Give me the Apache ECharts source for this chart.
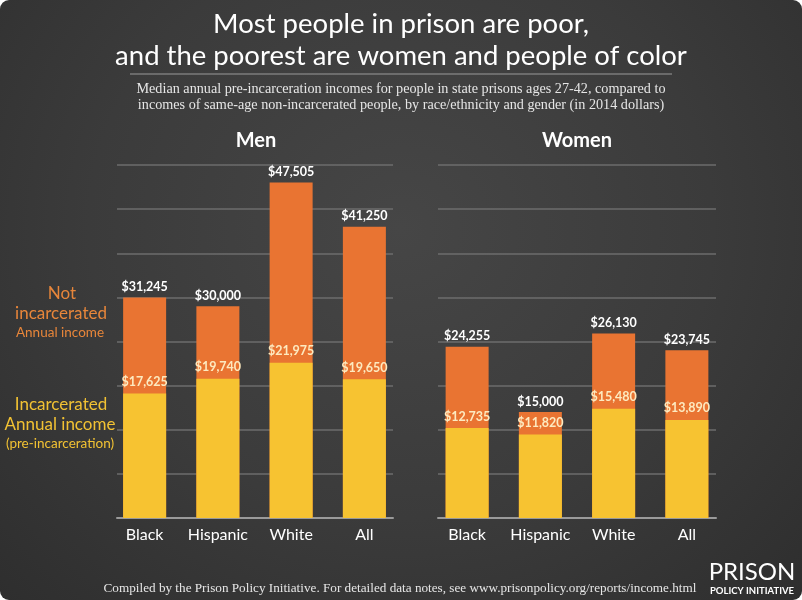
<!DOCTYPE html>
<html>
<head>
<meta charset="utf-8">
<script src="https://cdn.jsdelivr.net/npm/echarts@6/dist/echarts.min.js"></script>
<style>
  html, body { margin: 0; padding: 0; background: #fff; }
  #chart {
    width: 802px; height: 600px; border-radius: 9px; overflow: hidden;
    background: radial-gradient(ellipse at 50% 38%, #464646 0%, #3b3b3b 55%, #2e2e2e 100%);
  }
</style>
</head>
<body>
<div id="chart"></div>
<script>
// data
var categories = ['Black', 'Hispanic', 'White', 'All'];
var menNotIncarcerated = [31245, 30000, 47505, 41250];
var menIncarcerated = [17625, 19740, 21975, 19650];
var womenNotIncarcerated = [24255, 15000, 26130, 23745];
var womenIncarcerated = [12735, 11820, 15480, 13890];
var yMin = 0, yMax = 50000, yStep = 6250;

var ORANGE = '#e97432';
var YELLOW = '#f7c331';

function money(p) {
  return '$' + p.value.toLocaleString('en-US');
}

var myChart = echarts.init(document.getElementById('chart'));

var plotTop = 165, plotHeight = 353;
var grids = [
  { left: 108, top: plotTop, width: 293, height: plotHeight },   // men bars
  { left: 430.5, top: plotTop, width: 293, height: plotHeight }, // women bars
  { left: 117, top: plotTop, width: 276, height: plotHeight },   // men lines
  { left: 438, top: plotTop, width: 278, height: plotHeight }    // women lines
];

var xAxes = [], yAxes = [];
[0, 1].forEach(function (i) {
  xAxes.push({
    type: 'category', gridIndex: i, data: categories,
    axisLine: { show: false }, axisTick: { show: false },
    axisLabel: { interval: 0, color: '#fff', fontSize: 16, fontFamily: 'Lato', margin: 9 }
  });
  yAxes.push({
    type: 'value', gridIndex: i, min: yMin, max: yMax, interval: yStep,
    axisLabel: { show: false }, axisLine: { show: false }, axisTick: { show: false },
    splitLine: { show: false }
  });
});
[2, 3].forEach(function (i) {
  xAxes.push({
    type: 'value', gridIndex: i, min: 0, max: 1,
    axisLine: { show: true, lineStyle: { color: '#9a9a9a', width: 2 } },
    axisTick: { show: false }, axisLabel: { show: false }, splitLine: { show: false }
  });
  yAxes.push({
    type: 'value', gridIndex: i, min: yMin, max: yMax, interval: yStep,
    axisLabel: { show: false }, axisLine: { show: false }, axisTick: { show: false },
    splitLine: { show: true, lineStyle: { color: '#6c6c6c', width: 1.5 } }
  });
});

function barPair(idx, totals, inc) {
  return [
    {
      name: 'Not incarcerated', type: 'bar', xAxisIndex: idx, yAxisIndex: idx,
      data: totals, barWidth: 43, barGap: '-100%',
      itemStyle: { color: ORANGE },
      label: {
        show: true, position: 'top', distance: 4, formatter: money,
        color: '#fff', fontWeight: 'bold', fontSize: 12.5, fontFamily: 'Lato'
      }
    },
    {
      name: 'Incarcerated', type: 'bar', xAxisIndex: idx, yAxisIndex: idx,
      data: inc, barWidth: 43, barGap: '-100%',
      itemStyle: { color: YELLOW },
      label: {
        show: true, position: 'top', distance: 5, formatter: money,
        color: '#fdeac0', fontWeight: 'bold', fontSize: 12.5, fontFamily: 'Lato'
      }
    }
  ];
}

function txt(text, x, y, font, fill) {
  return {
    type: 'text', x: x, y: y, silent: true,
    style: { text: text, font: font, fill: fill, textAlign: 'center', textVerticalAlign: 'middle' }
  };
}

var option = {
  animation: false,
  grid: grids,
  xAxis: xAxes,
  yAxis: yAxes,
  series: barPair(0, menNotIncarcerated, menIncarcerated)
    .concat(barPair(1, womenNotIncarcerated, womenIncarcerated)),
  graphic: [
    txt('Most people in prison are poor,', 401, 24, 'normal 27.5px Lato', '#fff'),
    txt('and the poorest are women and people of color', 401, 56, 'normal 27.5px Lato', '#fff'),
    { type: 'line', silent: true, shape: { x1: 130, y1: 74, x2: 672, y2: 74 },
      style: { stroke: '#9a9a9a', lineWidth: 1 } },
    txt('Median annual pre-incarceration incomes for people in state prisons ages 27-42, compared to',
        401, 89, 'normal 14.2px "Liberation Serif"', '#e6e6e6'),
    txt('incomes of same-age non-incarcerated people, by race/ethnicity and gender (in 2014 dollars)',
        401, 105, 'normal 14.2px "Liberation Serif"', '#e6e6e6'),
    txt('Men', 256, 141, 'bold 20px Lato', '#fff'),
    txt('Women', 577, 141, 'bold 20px Lato', '#fff'),
    txt('Not', 62, 294, 'normal 17px Lato', '#e8863a'),
    txt('incarcerated', 61, 314, 'normal 17px Lato', '#e8863a'),
    txt('Annual income', 60, 333, 'normal 13.5px Lato', '#e8863a'),
    txt('Incarcerated', 61, 405, 'normal 17px Lato', '#f2c233'),
    txt('Annual income', 60, 425, 'normal 17px Lato', '#f2c233'),
    txt('(pre-incarceration)', 60, 444, 'normal 13.5px Lato', '#f2c233'),
    txt('Compiled by the Prison Policy Initiative. For detailed data notes, see www.prisonpolicy.org/reports/income.html',
        400, 589, 'normal 13.2px "Liberation Serif"', '#e6e6e6'),
    txt('PRISON', 752, 572, 'normal 24px Lato', '#fff'),
    txt('POLICY INITIATIVE', 752, 591, 'bold 9.5px Lato', '#fff')
  ]
};

myChart.setOption(option);
</script>
</body>
</html>
